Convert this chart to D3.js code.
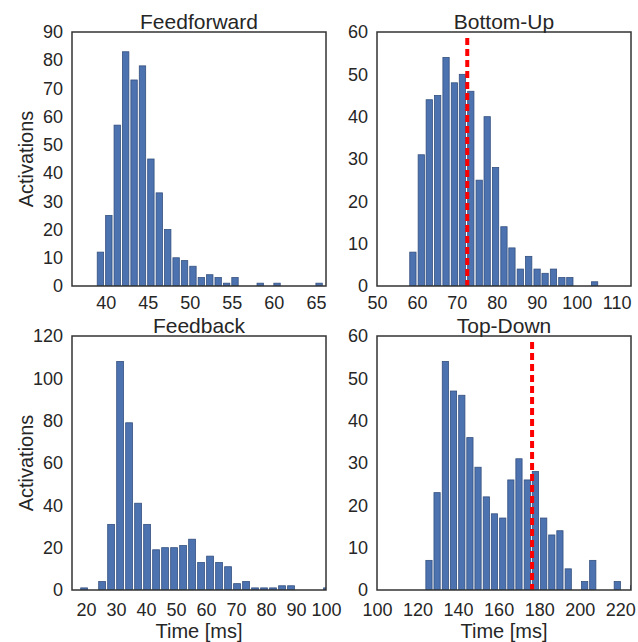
<!DOCTYPE html>
<html>
<head>
<meta charset="utf-8">
<script src="https://cdn.jsdelivr.net/npm/d3@7"></script>
<style>
  body { margin: 0; background: #fff; }
  text { font-family: "Liberation Sans", Arial, sans-serif; fill: #262626; }
</style>
</head>
<body>
<div id="chart"></div>
<script>
const width = 638;
const height = 642;

// Feedforward
const ffBins = [39, 40, 41, 42, 43, 44, 45, 46, 47, 48, 49, 50, 51, 52, 53, 54, 55, 56, 57, 58, 59, 60, 61, 62, 63, 64, 65];
const ffCounts = [12, 25, 57, 83, 73, 78, 45, 33, 20, 10, 9, 7, 3, 4, 3, 1, 3, 0, 0, 1, 0, 1, 0, 0, 0, 0, 1];
const ffXTicks = [40, 45, 50, 55, 60, 65];
const ffYTicks = [0, 10, 20, 30, 40, 50, 60, 70, 80, 90];

// Bottom-Up
const buBins = [58.2, 60.3, 62.3, 64.4, 66.5, 68.6, 70.6, 72.7, 74.8, 76.8, 78.9, 81.0, 83.0, 85.1, 87.2, 89.3, 91.3, 93.4, 95.5, 97.5, 99.6, 101.7, 103.7];
const buCounts = [8, 31, 44, 45, 54, 48, 50, 46, 25, 40, 28, 14, 9, 4, 7, 4, 3, 4, 2, 2, 0, 0, 1];
const buMean = 72.6;
const buXTicks = [50, 60, 70, 80, 90, 100, 110];
const buYTicks = [0, 10, 20, 30, 40, 50, 60];

// Feedback
const fbBins = [18.2, 21.2, 24.2, 27.2, 30.2, 33.2, 36.2, 39.2, 42.2, 45.2, 48.2, 51.2, 54.2, 57.2, 60.2, 63.2, 66.2, 69.2, 72.2, 75.2, 78.2, 81.2, 84.2, 87.2, 90.2, 93.2, 96.2, 99.2];
const fbCounts = [1, 0, 4, 31, 108, 79, 41, 31, 19, 20, 20, 21, 24, 13, 16, 13, 11, 3, 4, 1, 1, 1, 2, 2, 0, 0, 0, 1];
const fbXTicks = [20, 30, 40, 50, 60, 70, 80, 90, 100];
const fbYTicks = [0, 20, 40, 60, 80, 100, 120];

// Top-Down
const tdBins = [124.1, 128.1, 132.2, 136.2, 140.3, 144.3, 148.3, 152.4, 156.4, 160.5, 164.5, 168.5, 172.6, 176.6, 180.7, 184.7, 188.7, 192.8, 196.8, 200.9, 204.9, 208.9, 213.0, 217.0, 221.1, 225.1];
const tdCounts = [7, 23, 54, 47, 46, 36, 29, 22, 18, 17, 26, 31, 26, 28, 17, 13, 14, 5, 0, 2, 7, 0, 0, 2, 0, 1];
const tdMean = 176.5;
const tdXTicks = [100, 120, 140, 160, 180, 200, 220];
const tdYTicks = [0, 10, 20, 30, 40, 50, 60];

const panels = [
  { title: "Feedforward", bins: ffBins, counts: ffCounts, binW: 1, xDomain: [36, 66.2], yMax: 90,
    xTicks: ffXTicks, yTicks: ffYTicks, left: 72, top: 32, ylabel: true, xlabel: false },
  { title: "Bottom-Up", bins: buBins, counts: buCounts, binW: 2.07, xDomain: [50, 113.6], yMax: 60,
    xTicks: buXTicks, yTicks: buYTicks, left: 377, top: 32, mean: buMean, ylabel: false, xlabel: false },
  { title: "Feedback", bins: fbBins, counts: fbCounts, binW: 3, xDomain: [15.3, 100], yMax: 120,
    xTicks: fbXTicks, yTicks: fbYTicks, left: 72, top: 336, ylabel: true, xlabel: true },
  { title: "Top-Down", bins: tdBins, counts: tdCounts, binW: 4.04, xDomain: [100, 225.3], yMax: 60,
    xTicks: tdXTicks, yTicks: tdYTicks, left: 377, top: 336, mean: tdMean, ylabel: false, xlabel: true }
];

const pw = 254;
const ph = 254;

const svg = d3.select("#chart")
  .append("svg")
  .attr("width", width)
  .attr("height", height);

panels.forEach((p, i) => {
  const g = svg.append("g").attr("transform", `translate(${p.left},${p.top})`);

  const x = d3.scaleLinear().domain(p.xDomain).range([0, pw]);
  const y = d3.scaleLinear().domain([0, p.yMax]).range([ph, 0]);

  g.append("clipPath")
    .attr("id", "clip" + i)
    .append("rect")
    .attr("width", pw)
    .attr("height", ph);

  const plot = g.append("g").attr("clip-path", `url(#clip${i})`);

  plot.selectAll("rect.bar")
    .data(p.bins.map((b, j) => ({ b: b, c: p.counts[j] })).filter(d => d.c > 0))
    .enter()
    .append("rect")
    .attr("class", "bar")
    .attr("x", d => x(d.b))
    .attr("y", d => y(d.c))
    .attr("width", d => x(d.b + p.binW * 0.76) - x(d.b))
    .attr("height", d => ph - y(d.c))
    .attr("fill", "#4c72b0")
    .attr("stroke", "#34507f")
    .attr("stroke-width", 0.8);

  if (p.mean !== undefined) {
    plot.append("line")
      .attr("x1", x(p.mean))
      .attr("x2", x(p.mean))
      .attr("y1", 6)
      .attr("y2", ph)
      .attr("stroke", "#ff0000")
      .attr("stroke-width", 4)
      .attr("stroke-dasharray", "7,4");
  }

  // axes (no tick marks)
  const yAxis = g.append("g")
    .call(d3.axisLeft(y).tickValues(p.yTicks).tickSize(0).tickPadding(9));
  const xAxis = g.append("g")
    .attr("transform", `translate(0,${ph})`)
    .call(d3.axisBottom(x).tickValues(p.xTicks).tickSize(0).tickPadding(p.xlabel ? 13 : 10));

  [yAxis, xAxis].forEach(a => {
    a.select(".domain").remove();
    a.selectAll("text")
      .attr("font-size", "18px")
      .attr("font-family", "Liberation Sans, Arial, sans-serif")
      .attr("fill", "#262626");
  });

  g.append("rect")
    .attr("width", pw)
    .attr("height", ph)
    .attr("fill", "none")
    .attr("stroke", "#333333")
    .attr("stroke-width", 1.5);

  g.append("text")
    .attr("x", pw / 2)
    .attr("y", -3.5)
    .attr("text-anchor", "middle")
    .attr("font-size", "21px")
    .text(p.title);

  if (p.ylabel) {
    g.append("text")
      .attr("transform", `translate(${-39},${ph / 2}) rotate(-90)`)
      .attr("text-anchor", "middle")
      .attr("font-size", "20px")
      .text("Activations");
  }

  if (p.xlabel) {
    g.append("text")
      .attr("x", pw / 2)
      .attr("y", ph + 48)
      .attr("text-anchor", "middle")
      .attr("font-size", "20px")
      .text("Time [ms]");
  }
});
</script>
</body>
</html>
